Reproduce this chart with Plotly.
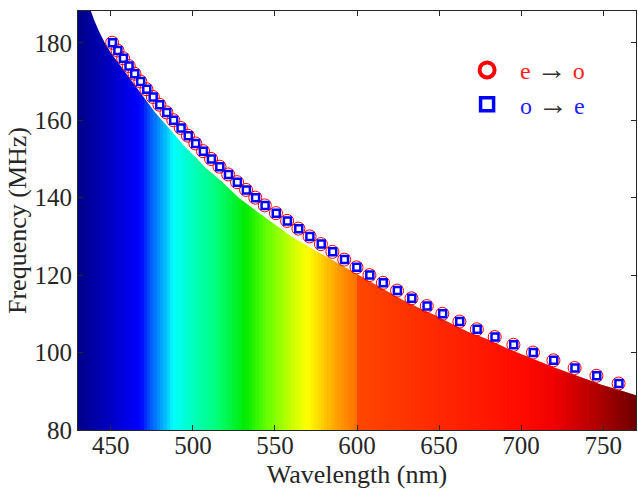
import numpy as np
import plotly.graph_objects as go

# ---- data ----
freq_mhz = [180, 178, 176, 174, 172, 170, 168, 166, 164, 162, 160, 158, 156, 154, 152,
            150, 148, 146, 144, 142, 140, 138, 136, 134, 132, 130, 128, 126, 124, 122,
            120, 118, 116, 114, 112, 110, 108, 106, 104, 102, 100, 98, 96, 94, 92]
lam_oe = [451.0, 454.3, 457.7, 461.1, 464.6, 468.2, 471.9, 475.8, 479.8, 484.1,
          488.3, 492.8, 497.2, 501.7, 506.4, 511.3, 516.4, 521.7, 527.1, 532.6,
          538.2, 544.0, 550.8, 557.6, 564.5, 571.3, 578.2, 585.2, 592.4, 599.9,
          607.8, 616.0, 624.6, 633.4, 642.7, 652.2, 662.6, 673.2, 684.1, 695.5,
          707.4, 719.9, 732.8, 746.1, 759.6]
lam_eo = [450.8, 454.1, 457.5, 460.9, 464.4, 468.0, 471.7, 475.6, 479.6, 483.9,
          488.1, 492.6, 497.0, 501.5, 506.2, 511.1, 516.2, 521.5, 526.9, 532.4,
          538.0, 543.8, 550.6, 557.4, 564.3, 571.1, 578.0, 585.0, 592.2, 599.7,
          607.6, 615.8, 624.4, 633.2, 642.5, 652.0, 662.4, 673.0, 683.9, 695.3,
          707.2, 719.7, 732.6, 745.9, 759.4]

# upper edge of the coloured region
curve_lam = [437.5, 440.0, 443.0, 446.3, 450.0, 455.0, 460.6, 465.0, 470.8, 477.0,
             484.0, 490.0, 495.0, 501.5, 508.0, 517.3, 528.0, 539.1, 550.0, 561.0,
             572.0, 582.8, 591.0, 600.3, 613.0, 626.8, 637.0, 648.0, 658.0, 667.6,
             680.0, 692.0, 708.3, 720.0, 735.0, 749.1, 760.0, 770.0]
curve_f = [188.6, 185.7, 182.8, 180.0, 177.4, 174.5, 171.4, 168.7, 165.5, 162.0,
           158.6, 155.6, 153.2, 150.5, 147.6, 144.3, 140.0, 136.4, 133.0, 129.7,
           127.0, 124.4, 122.3, 120.1, 117.0, 113.8, 111.7, 109.6, 107.4, 105.4,
           103.4, 101.0, 98.2, 96.2, 93.9, 91.7, 90.3, 89.0]

# spectrum colours vs wavelength
spec_nm = [430, 445, 460, 468, 472, 478, 484, 488, 500, 515, 532, 545, 560, 570,
           580, 590, 599, 600, 650, 700, 720, 745, 770]
spec_rgb = [(0, 0, 135), (0, 0, 180), (0, 0, 232), (0, 0, 255), (0, 60, 255),
            (0, 130, 255), (0, 200, 255), (0, 255, 255), (0, 255, 190), (0, 255, 120),
            (0, 235, 0), (100, 255, 0), (200, 255, 0), (255, 255, 0), (255, 200, 0),
            (255, 150, 0), (255, 115, 0), (255, 70, 0), (255, 40, 0), (255, 10, 0),
            (240, 0, 0), (180, 0, 0), (110, 0, 0)]

x_ticks = [450, 500, 550, 600, 650, 700, 750]
y_ticks = [80, 100, 120, 140, 160, 180]

X_MIN, X_MAX = 430, 770
Y_MIN, Y_MAX = 80, 188.2

# ---- figure ----
colorscale = [[(nm - X_MIN) / (X_MAX - X_MIN), "rgb(%d,%d,%d)" % c]
              for nm, c in zip(spec_nm, spec_rgb)]
edges = np.arange(X_MIN, X_MAX + 0.01, 2.0)
centers = (edges[:-1] + edges[1:]) / 2

fig = go.Figure()
fig.add_trace(go.Heatmap(x=edges, y=[Y_MIN, Y_MAX + 1], z=[centers],
                         colorscale=colorscale, zmin=X_MIN, zmax=X_MAX,
                         showscale=False, hoverinfo="skip"))

# white mask above the curve
mask_x = curve_lam + [X_MAX + 5, X_MAX + 5, curve_lam[0]]
mask_y = curve_f + [curve_f[-1], Y_MAX + 5, Y_MAX + 5]
fig.add_trace(go.Scatter(x=mask_x, y=mask_y, mode="lines", fill="toself",
                         fillcolor="white", line=dict(width=0, color="white"),
                         showlegend=False, hoverinfo="skip"))

RED = "rgb(255,0,0)"
BLUE = "rgb(0,0,255)"

fig.add_trace(go.Scatter(x=lam_eo, y=freq_mhz, mode="markers", showlegend=False,
                         marker=dict(symbol="circle-open", size=13, color=RED,
                                     line=dict(width=1, color=RED))))
fig.add_trace(go.Scatter(x=lam_oe, y=freq_mhz, mode="markers", showlegend=False,
                         marker=dict(symbol="square-open", size=7, color=BLUE,
                                     line=dict(width=2.5, color=BLUE))))

ARROW = "<span style='font-size:30px'>→</span>"
fig.add_trace(go.Scatter(x=[None], y=[None], mode="markers",
                         name="<span style='color:#ff1f1f'>e</span> " + ARROW +
                              " <span style='color:#ff1f1f'>o</span>",
                         marker=dict(symbol="circle-open", size=15, color=RED,
                                     line=dict(width=4, color=RED))))
fig.add_trace(go.Scatter(x=[None], y=[None], mode="markers",
                         name="<span style='color:#1f1fff'>o</span> " + ARROW +
                              " <span style='color:#1f1fff'>e</span>",
                         marker=dict(symbol="square-open", size=13, color=BLUE,
                                     line=dict(width=3.5, color=BLUE))))

FAMILY = "Times New Roman"
axis_font = dict(family=FAMILY, size=25, color="#262626")
title_font = dict(family=FAMILY, size=26, color="#262626")

fig.update_layout(
    width=638, height=489,
    margin=dict(l=78, r=1, t=11, b=57),
    paper_bgcolor="white", plot_bgcolor="white",
    font=dict(family=FAMILY),
    showlegend=True,
    legend=dict(x=0.674, y=0.912, xanchor="left", yanchor="top",
                bgcolor="rgba(0,0,0,0)", itemwidth=56,
                font=dict(family=FAMILY, size=24, color="#333333"),
                tracegroupgap=0),
    xaxis=dict(range=[X_MIN, X_MAX], tickvals=x_ticks, ticks="inside", ticklen=5,
               tickcolor="#262626", showline=True, linecolor="#262626", linewidth=1,
               mirror="ticks", showgrid=False, zeroline=False, tickfont=axis_font,
               ticklabelstandoff=-7,
               title=dict(text="Wavelength (nm)", font=title_font, standoff=11)),
    yaxis=dict(range=[Y_MIN, Y_MAX], tickvals=y_ticks, ticks="inside", ticklen=5,
               tickcolor="#262626", showline=True, linecolor="#262626", linewidth=1,
               mirror="ticks", showgrid=False, zeroline=False, tickfont=axis_font,
               title=dict(text="Frequency (MHz)", font=title_font, standoff=0)),
)

fig.write_html("out.html", config={"displayModeBar": False},
               post_script="document.body.style.margin='0px';document.body.style.overflow='hidden';")
